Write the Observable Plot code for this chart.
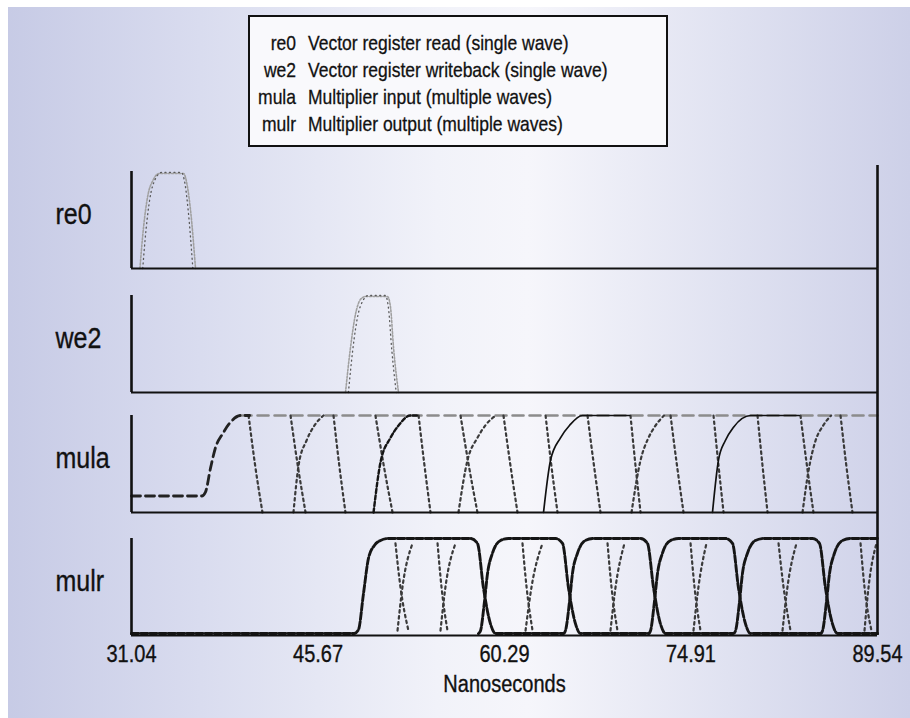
<!DOCTYPE html>
<html>
<head>
<meta charset="utf-8">
<script src="https://cdn.jsdelivr.net/npm/d3@7"></script>
<script src="https://cdn.jsdelivr.net/npm/@observablehq/plot@0.6"></script>
<style>
html, body { margin: 0; padding: 0; }
body { width: 910px; height: 718px; overflow: hidden; }
#page {
  position: relative; width: 910px; height: 718px; overflow: hidden;
  font-family: "Liberation Sans", Arial, Helvetica, sans-serif; color: #111;
  background:
    linear-gradient(#fff, #fff) top left / 100% 7px no-repeat,
    linear-gradient(#fff, #fff) top left / 8px 100% no-repeat,
    linear-gradient(to right, #c6cae5 0%, #d9dcef 22%, #f1f2f9 48%, #f6f6fb 58%, #e0e2f1 80%, #cdd0e8 100%);
}
#page svg { position: absolute; left: 0; }
#legend {
  position: absolute; left: 248px; top: 15px; width: 416px; height: 128px;
  border: 2px solid #111; background: #f9f9fc;
}
.lrow { position: absolute; left: 0; height: 24px; line-height: 24px; font-size: 17.5px; white-space: nowrap; }
.lrow span { display: inline-block; transform: scaleY(1.2); -webkit-text-stroke: 0.25px #111; }
.lkey { position: absolute; right: 370px; text-align: right; }
.ltxt { position: absolute; left: 58px; }
</style>
</head>
<body>
<div id="page"><div id="legend"></div></div>
<script>
// ---------- data ----------
const xDomain = [31.04, 89.54];
const xTicks = [31.04, 45.67, 60.29, 74.91, 89.54];
const xTickLabels = ["31.04", "45.67", "60.29", "74.91", "89.54"];
const xTitle = "Nanoseconds";
const panelNames = ["re0", "we2", "mula", "mulr"];
const legendKeys = ["re0", "we2", "mula", "mulr"];
const legendTexts = [
  "Vector register read (single wave)",
  "Vector register writeback (single wave)",
  "Multiplier input (multiple waves)",
  "Multiplier output (multiple waves)"
];

// re0 pulse (ns, normalized level)
const re0WaveA = [[31.70,0],[31.98,0.42],[32.29,0.73],[32.77,0.92],[33.20,0.98],[35.12,0.98],[35.43,0.84],[35.67,0.60],[36.06,0]];
const re0WaveB = [[31.92,0],[32.18,0.40],[32.48,0.72],[32.90,0.92],[33.40,0.99],[34.95,0.99],[35.25,0.86],[35.50,0.58],[35.85,0]];
// we2 pulse
const we2WaveA = [[47.82,0],[48.21,0.46],[48.61,0.81],[49.00,0.96],[49.39,0.99],[51.12,0.99],[51.35,0.88],[51.59,0.46],[51.98,0]];
const we2WaveB = [[48.05,0],[48.40,0.45],[48.80,0.80],[49.20,0.95],[49.60,1.00],[50.95,1.00],[51.20,0.86],[51.45,0.44],[51.80,0]];

// mula
const mulaStart = [[31.04,0.17],[36.55,0.17],[36.84,0.21],[37.24,0.46],[37.63,0.67],[38.18,0.81],[38.80,0.93],[39.59,1.0],[40.30,1.0]];
const mulaHigh = [[39.59,1],[89.54,1]];
const mulaFalls = [
  [[40.22,1],[40.72,0.5],[41.31,0]],
  [[43.51,1],[44.06,0.5],[44.69,0]],
  [[46.88,1],[47.32,0.5],[47.82,0]],
  [[50.17,1],[50.80,0.5],[51.51,0]],
  [[53.55,1],[54.00,0.5],[54.49,0]],
  [[56.84,1],[57.47,0.5],[58.17,0]],
  [[60.21,1],[60.74,0.5],[61.31,0]],
  [[63.51,1],[63.95,0.5],[64.45,0]],
  [[66.80,1],[67.29,0.5],[67.82,0]],
  [[70.17,1],[70.55,0.5],[70.96,0]],
  [[73.31,1],[73.80,0.5],[74.33,0]],
  [[76.68,1],[77.06,0.5],[77.47,0]],
  [[80.13,1],[80.51,0.5],[80.92,0]],
  [[83.50,1],[83.99,0.5],[84.52,0]],
  [[86.64,1],[87.08,0.5],[87.58,0]]
];
const mulaDottedRises = [
  [[43.74,0],[44.16,0.5],[44.76,0.74],[45.40,0.9],[46.10,1.0]],
  [[56.68,0],[57.39,0.54],[58.17,0.77],[58.80,0.9],[59.60,1.0]],
  [[70.25,0],[70.96,0.54],[71.58,0.77],[72.10,0.89],[72.80,1.0]],
  [[83.66,0],[84.13,0.43],[84.68,0.74],[85.30,0.9],[85.90,1.0]]
];
const mulaDashedRise = [[50.02,0],[50.57,0.52],[51.35,0.77],[52.00,0.9],[52.90,1.0],[53.50,1.0]];
const mulaSolidRises = [
  [[63.35,0],[63.90,0.54],[64.68,0.77],[65.40,0.9],[66.40,1.0],[70.10,1.0]],
  [[76.60,0],[77.07,0.54],[77.60,0.74],[78.25,0.88],[79.60,1.0],[83.40,1.0]]
];

// mulr
const mulrThickA = [[31.04,0.02],[48.50,0.02],[48.84,0.06],[49.23,0.43],[49.63,0.80],[50.10,0.93],[50.57,0.98],[51.19,1.0],
  [57.62,1.0],[58.17,0.95],[58.64,0.49],[59.19,0.12],[59.59,0.02],
  [64.92,0.02],[65.07,0.05],[65.39,0.35],[65.62,0.64],[66.02,0.85],[66.64,0.98],[67.27,1.0],
  [70.96,1.0],[71.50,0.95],[71.98,0.49],[72.52,0.12],[72.92,0.02],
  [78.25,0.02],[78.41,0.05],[78.72,0.35],[78.95,0.64],[79.35,0.85],[79.97,0.98],[80.60,1.0],
  [84.44,1.0],[84.99,0.95],[85.46,0.49],[86.01,0.12],[86.40,0.02],[89.54,0.02]];
const mulrThickB = [[58.25,0.02],[58.41,0.05],[58.72,0.35],[58.96,0.64],[59.35,0.85],[59.98,0.98],[60.60,1.0],
  [64.29,1.0],[64.84,0.95],[65.31,0.49],[65.86,0.12],[66.25,0.02],
  [71.58,0.02],[71.74,0.05],[72.05,0.35],[72.29,0.64],[72.68,0.85],[73.31,0.98],[73.94,1.0],
  [77.62,1.0],[78.17,0.95],[78.64,0.49],[79.19,0.12],[79.58,0.02],
  [85.07,0.02],[85.23,0.05],[85.54,0.35],[85.78,0.64],[86.17,0.85],[86.80,0.98],[87.42,1.0],[89.54,1.0]];
const mulrDotFalls = [
  [[51.74,0.95],[52.13,0.5],[52.76,0.05]],
  [[55.04,0.95],[55.35,0.5],[55.82,0.05]],
  [[61.70,0.95],[62.02,0.5],[62.49,0.05]],
  [[68.37,0.95],[68.68,0.5],[69.15,0.05]],
  [[74.88,0.95],[75.19,0.5],[75.66,0.05]],
  [[81.78,0.95],[82.17,0.5],[82.72,0.05]],
  [[88.21,0.95],[88.52,0.5],[89.07,0.05]]
];
const mulrDotRises = [
  [[51.90,0.05],[52.29,0.5],[53.08,0.95]],
  [[55.27,0.05],[55.66,0.5],[56.45,0.95]],
  [[61.94,0.05],[62.41,0.5],[63.27,0.95]],
  [[68.60,0.05],[69.00,0.5],[69.70,0.95]],
  [[75.11,0.05],[75.50,0.5],[76.13,0.95]],
  [[82.09,0.05],[82.48,0.5],[83.19,0.95]],
  [[88.52,0.05],[88.84,0.5],[89.46,0.95]]
];

// ---------- rendering ----------
const page = document.getElementById("page");
const legend = document.getElementById("legend");
legendKeys.forEach((k, i) => {
  const row = document.createElement("div");
  row.className = "lrow";
  row.style.top = (14 + i * 27) + "px";
  row.style.width = "416px";
  row.innerHTML = `<span class="lkey">${k}</span><span class="ltxt">${legendTexts[i]}</span>`;
  legend.appendChild(row);
});

const rows = (curves) => curves.flatMap((c, i) => c.map(([x, y]) => ({x, y, id: i})));
const FONT = '"Liberation Sans", Arial, Helvetica, sans-serif';
const INK = "#111";

const styles = {
  pulseLight: {stroke: "#a0a0a0", strokeWidth: 1.6, strokeDasharray: "2,1.6"},
  pulseDark: {stroke: "#5a5a5a", strokeWidth: 1.3, strokeDasharray: "1,3.5"},
  high: {stroke: "#8c8c8c", strokeWidth: 2.6, strokeDasharray: "11,6"},
  start: {stroke: "#222", strokeWidth: 2.8, strokeDasharray: "9,5"},
  dotted: {stroke: "#3a3a3a", strokeWidth: 2.2, strokeDasharray: "2.5,3.5"},
  dashed: {stroke: "#151515", strokeWidth: 2.4, strokeDasharray: "4,2.5"},
  solid: {stroke: "#111", strokeWidth: 1.7},
  thick: {stroke: "#151515", strokeWidth: 2.9, strokeDasharray: "7,2.2"}
};
const lineOf = (curves, st) => Plot.line(rows(curves), {x: "x", y: "y", z: "id", curve: "monotone-x", ...styles[st]});

const panels = [
  {name: "re0", top: 171, mt: 12, mb: 6, ext: 1.062, marks: [lineOf([re0WaveA], "pulseLight"), lineOf([re0WaveB], "pulseDark")]},
  {name: "we2", top: 295, mt: 30, mb: 6, ext: 1.278, marks: [lineOf([we2WaveA], "pulseLight"), lineOf([we2WaveB], "pulseDark")]},
  {name: "mula", top: 415, mt: 30, mb: 6, ext: 1.237, marks: [
    lineOf([mulaHigh], "high"), lineOf(mulaFalls, "dotted"), lineOf(mulaDottedRises, "dotted"),
    lineOf([mulaDashedRise], "dashed"), lineOf(mulaSolidRises, "solid"), lineOf([mulaStart], "start")]},
  {name: "mulr", top: 538, mt: 30, mb: 80, ext: 1.268, axis: true, marks: [
    lineOf(mulrDotFalls, "dotted"), lineOf(mulrDotRises, "dotted"),
    lineOf([mulrThickB], "thick"), lineOf([mulrThickA], "thick")]}
];

const PH = 97;
panels.forEach(p => {
  const marks = [
    ...p.marks,
    Plot.ruleY([0], {x1: xDomain[0], x2: xDomain[1], stroke: INK, strokeWidth: 2.2}),
    Plot.ruleX([xDomain[0]], {y1: 0, y2: 1, stroke: INK, strokeWidth: 2.6}),
    Plot.ruleX([xDomain[1]], {y1: 0, y2: p.ext, stroke: INK, strokeWidth: 2.6}),
    Plot.text([p.name], {frameAnchor: "left", dx: -76, dy: -5, textAnchor: "start", fontSize: 25, fill: INK})
  ];
  if (p.axis) {
    marks.push(Plot.axisX(xTicks, {tickSize: 0, tickPadding: 10, tickFormat: (d, i) => xTickLabels[i], fontSize: 20, label: null, fill: INK}));
    marks.push(Plot.text([xTitle], {frameAnchor: "bottom", dy: 56, fontSize: 20, fill: INK}));
  }
  const svg = Plot.plot({
    width: 910,
    height: p.mt + PH + p.mb,
    marginLeft: 131, marginRight: 33, marginTop: p.mt, marginBottom: p.mb,
    x: {domain: xDomain, axis: null},
    y: {domain: [0, 1], axis: null},
    style: {background: "transparent", overflow: "visible", fontFamily: FONT, color: INK},
    marks
  });
  // the printed figure's lettering is slightly tall and heavy: stretch each label vertically
  svg.querySelectorAll("text").forEach(t => {
    const tr = t.getAttribute("transform");
    if (tr) {
      t.setAttribute("transform", tr + " scale(1,1.15)");
    } else {
      const x = +(t.getAttribute("x") || 0), y = +(t.getAttribute("y") || 0);
      t.setAttribute("x", 0); t.setAttribute("y", 0);
      t.setAttribute("transform", `translate(${x},${y}) scale(1,1.15)`);
    }
    t.setAttribute("stroke", INK);
    t.setAttribute("stroke-width", 0.3);
  });
  svg.style.top = (p.top - p.mt) + "px";
  page.appendChild(svg);
});
</script>
</body>
</html>
